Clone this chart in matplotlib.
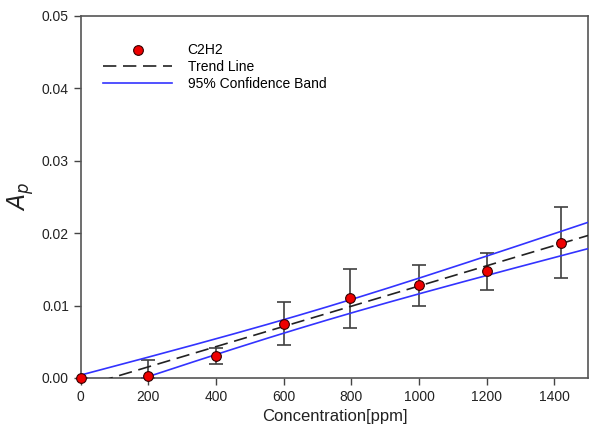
import numpy as np
import matplotlib
matplotlib.use("Agg")
import matplotlib.pyplot as plt

plt.rcParams['font.family'] = ['Liberation Sans', 'DejaVu Sans']

# Measured absorbance vs C2H2 concentration
conc = [0, 200, 400, 600, 795, 1000, 1200, 1420]
ap = [0.0, 0.0003, 0.0031, 0.0075, 0.0110, 0.0129, 0.0148, 0.0187]
err_hi = [0.0, 0.0022, 0.0011, 0.0030, 0.0040, 0.0027, 0.0024, 0.0049]
err_lo = [0.0, 0.0003, 0.0012, 0.0029, 0.0041, 0.0029, 0.0026, 0.0049]

x = np.array(conc, float)
y = np.array(ap, float)

# Linear regression and 95% confidence band of the mean
n = len(x)
slope, intercept = np.polyfit(x, y, 1)
resid = y - (slope * x + intercept)
s = np.sqrt(np.sum(resid ** 2) / (n - 2))
t975 = 2.447
xs = np.linspace(0, 1500, 300)
fit = slope * xs + intercept
half = t975 * s * np.sqrt(1 / n + (xs - x.mean()) ** 2 / np.sum((x - x.mean()) ** 2))

fig = plt.figure(figsize=(5.94, 4.4), dpi=100)
ax = fig.add_axes([0.136, 0.141, 0.854, 0.823])

ax.errorbar(x, y, yerr=[err_lo, err_hi], fmt='none', ecolor='#404040',
            elinewidth=1.2, capsize=5, capthick=1.2, zorder=2)
ax.plot(xs, fit, color='#222222', lw=1.2, dashes=(8, 4), label='Trend Line', zorder=3)
ax.plot(xs, fit + half, color='#3333ff', lw=1.2, label='95% Confidence Band', zorder=3)
ax.plot(xs, fit - half, color='#3333ff', lw=1.2, zorder=3)
ax.plot(x, y, 'o', color='#ee0000', mec='#330000', mew=0.8, ms=7,
        label='C2H2', zorder=4, clip_on=False)

ax.set_xlim(0, 1500)
ax.set_ylim(0, 0.05)
ax.set_xticks([0, 200, 400, 600, 800, 1000, 1200, 1400])
ax.set_yticks([0, 0.01, 0.02, 0.03, 0.04, 0.05])
ax.set_yticklabels(['0.00', '0.01', '0.02', '0.03', '0.04', '0.05'])
ax.tick_params(direction='out', length=5, width=1, colors='#444444', labelsize=10,
               labelcolor='#222222')
for sp in ax.spines.values():
    sp.set_color('#555555')
    sp.set_linewidth(1.2)

ax.set_xlabel('Concentration[ppm]', fontsize=12, color='#222222')
ax.set_ylabel('$A_p$', fontsize=17, color='#222222', labelpad=4)

h, l = ax.get_legend_handles_labels()
order = [l.index('C2H2'), l.index('Trend Line'), l.index('95% Confidence Band')]
ax.legend([h[i] for i in order], [l[i] for i in order], loc='upper left',
          frameon=False, fontsize=10, handlelength=5.0, handletextpad=1.1,
          borderaxespad=1.2, labelspacing=0.2, bbox_to_anchor=(0.0, 0.985))

fig.savefig('out.png', dpi=100)
